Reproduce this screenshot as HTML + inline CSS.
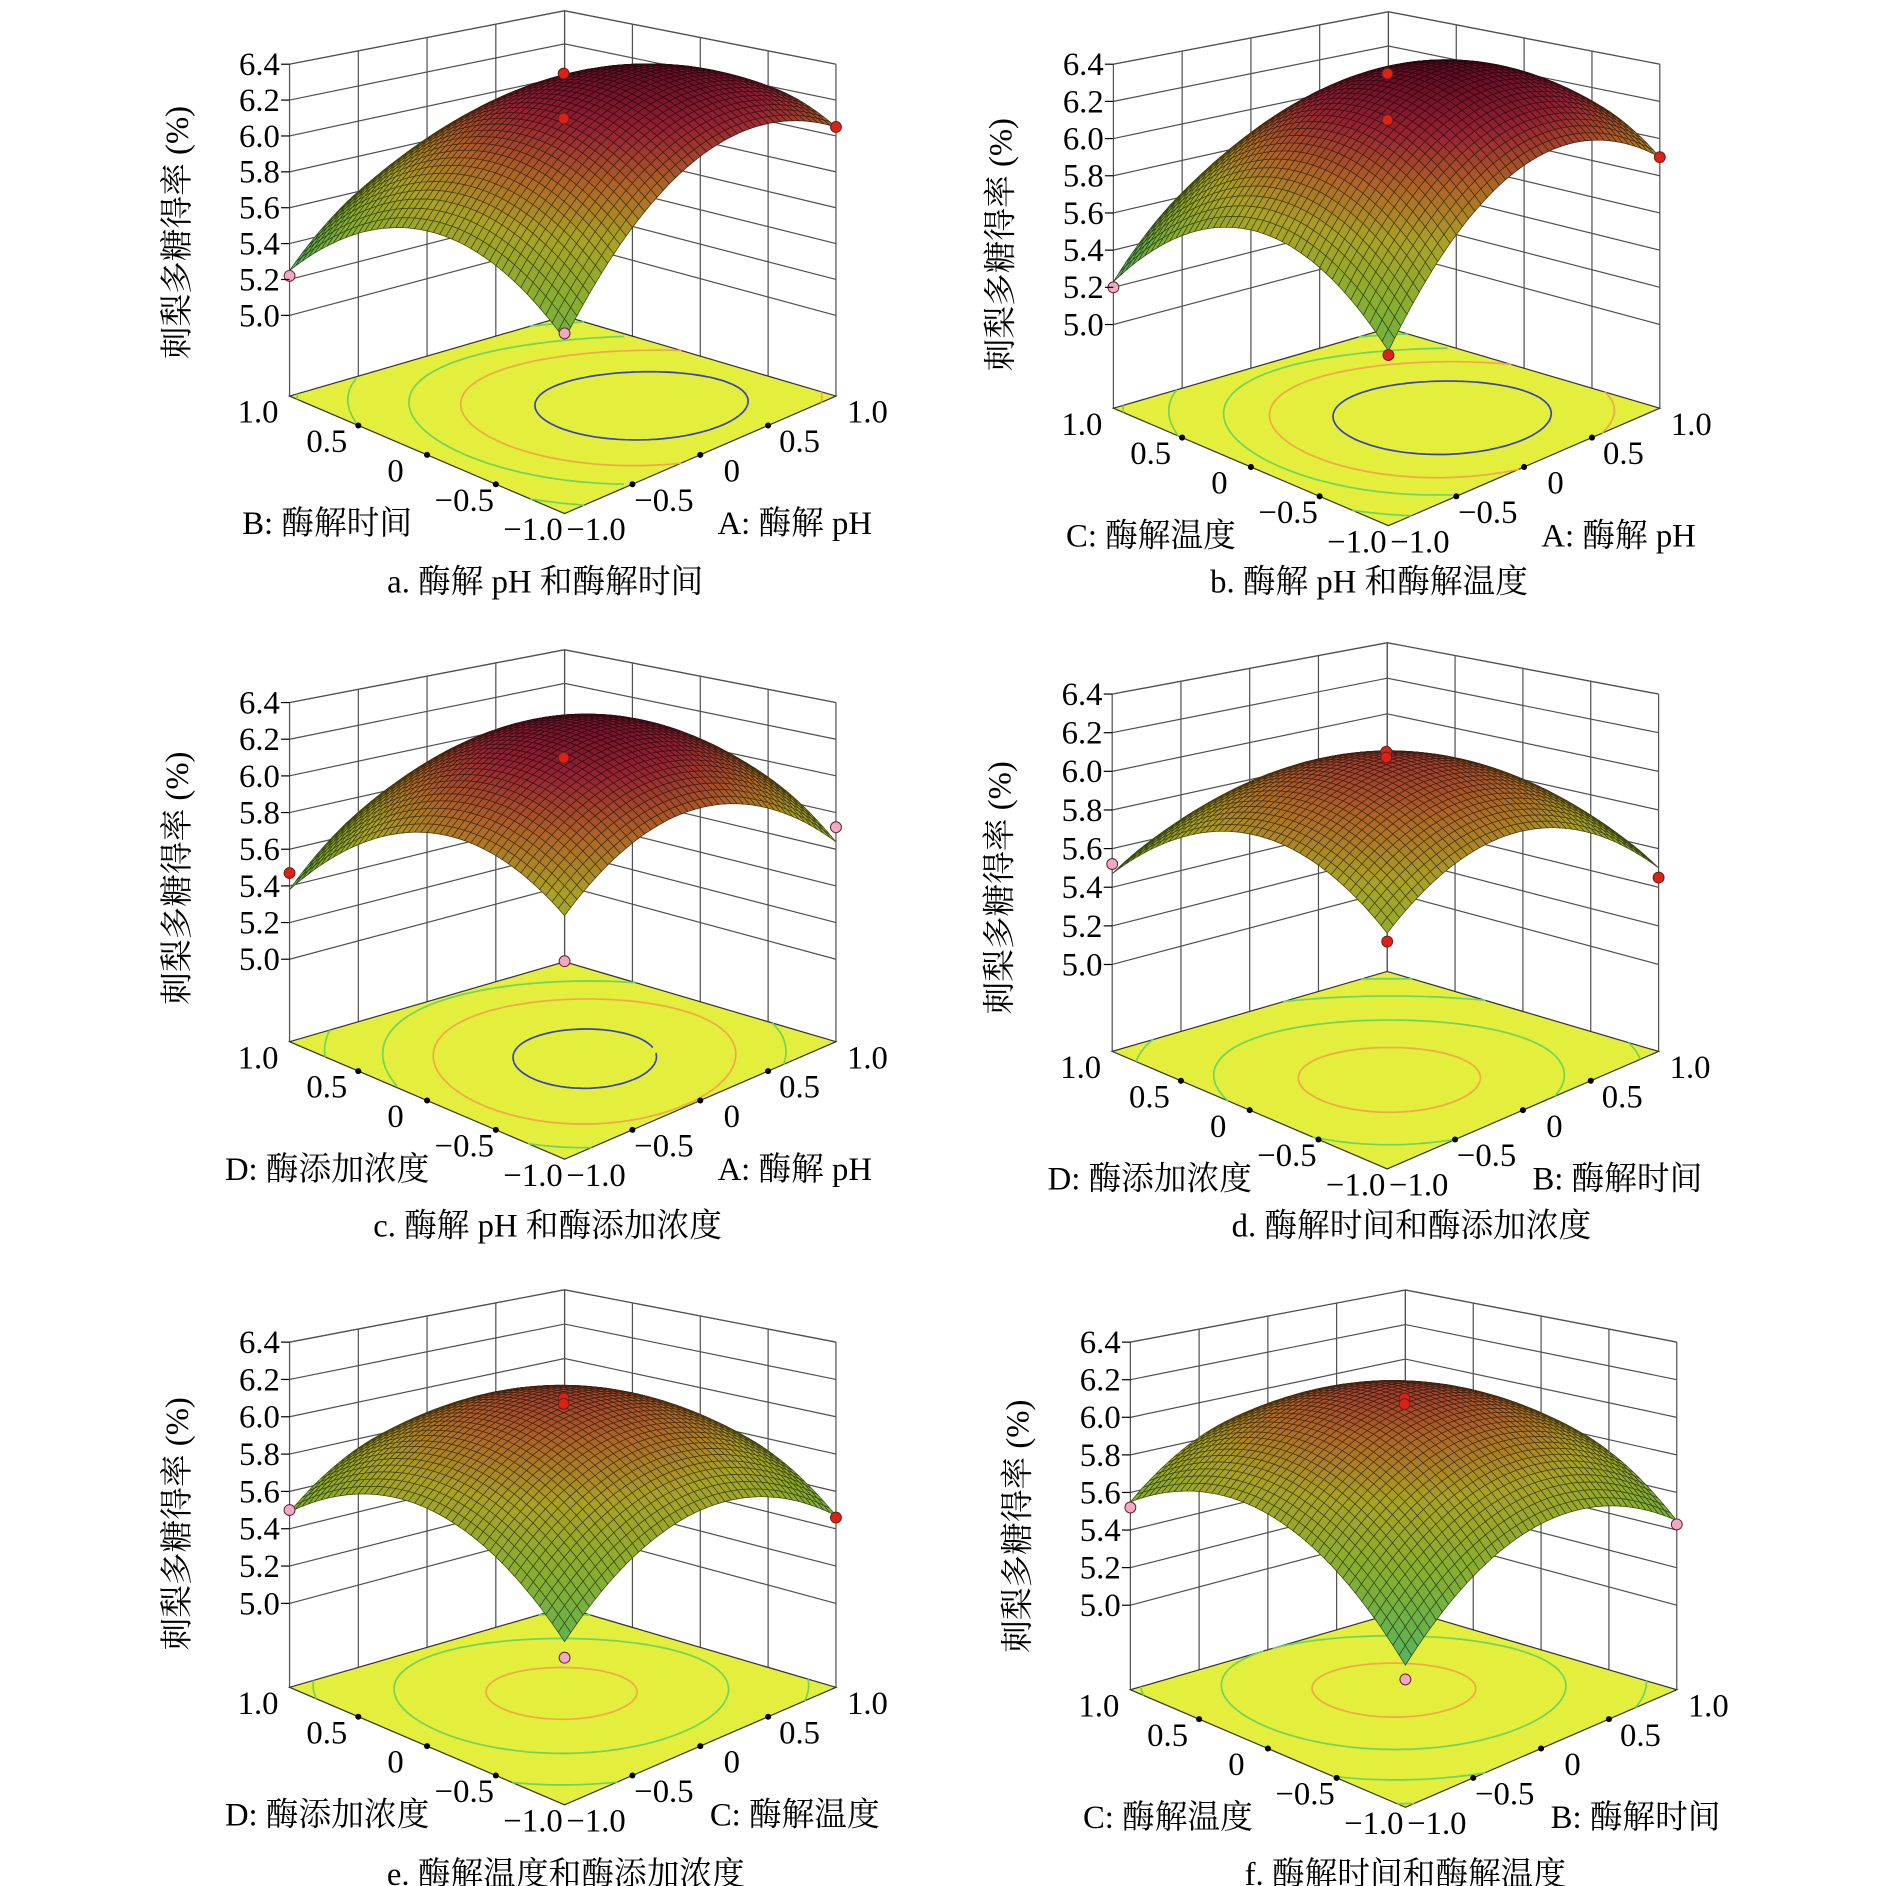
<!DOCTYPE html>
<html><head><meta charset="utf-8">
<style>
html,body{margin:0;padding:0;background:#fff;}
svg{display:block;}
text{font-family:"Liberation Serif","Noto Serif CJK SC","Noto Sans CJK SC",serif;fill:#000;}
</style></head>
<body>
<svg id="fig" xmlns="http://www.w3.org/2000/svg" width="1890" height="1886" viewBox="0 0 1560 1557" preserveAspectRatio="none">
</svg>
<script>
// ---- panel data (estimated from figure) ----
const panelIds = ['a','b','c','d','e','f'];
const rightAxisTitles = ['A: 酶解 pH','A: 酶解 pH','A: 酶解 pH','B: 酶解时间','C: 酶解温度','B: 酶解时间'];
const leftAxisTitles = ['B: 酶解时间','C: 酶解温度','D: 酶添加浓度','D: 酶添加浓度','D: 酶添加浓度','C: 酶解温度'];
const captions = ['a. 酶解 pH 和酶解时间','b. 酶解 pH 和酶解温度','c. 酶解 pH 和酶添加浓度','d. 酶解时间和酶添加浓度','e. 酶解温度和酶添加浓度','f. 酶解时间和酶解温度'];
// quadratic response-surface coefficients (u = right axis factor, v = left axis factor)
const coefB0 = [6.35, 6.40, 6.35, 6.15, 6.15, 6.15];
const coefU  = [0.20, 0.175, 0.02, -0.125, 0.025, 0.05];
const coefV  = [-0.20, -0.16, -0.11, -0.14, 0.035, 0.10];
const coefUV = [-0.10, -0.065, 0.09, -0.035, -0.03, -0.05];
const coefUU = [-0.40, -0.45, -0.375, -0.35, -0.35, -0.35];
const coefVV = [-0.40, -0.45, -0.375, -0.35, -0.35, -0.35];
// design points [u, v, z, type] type 1 = above surface (red), 0 = below (pink)
const designPoints = [
  [[0,0,6.40,1],[0,0,6.15,1],[-1,1,5.22,0],[1,-1,6.05,1],[-1,-1,5.48,0]],
  [[0,0,6.40,1],[0,0,6.15,1],[-1,1,5.20,0],[1,-1,5.90,1],[-1,-1,5.40,1]],
  [[0,0,6.15,1],[-1,1,5.47,1],[1,-1,5.72,0],[-1,-1,5.55,0]],
  [[0,0,6.15,1],[0,0,6.12,1],[-1,1,5.52,0],[1,-1,5.45,1],[-1,-1,5.64,1]],
  [[0,0,6.15,1],[0,0,6.12,1],[-1,1,5.50,0],[1,-1,5.46,1],[-1,-1,5.28,0]],
  [[0,0,6.15,1],[0,0,6.12,1],[-1,1,5.52,0],[1,-1,5.43,0],[-1,-1,5.18,0]]
];
const zTicks = [5.0,5.2,5.4,5.6,5.8,6.0,6.2,6.4];
const zTickLabels = ['5.0','5.2','5.4','5.6','5.8','6.0','6.2','6.4'];
const uvTicks = [-1,-0.5,0,0.5,1];
const uvTickLabels = ['−1.0','−0.5','0','0.5','1.0'];
const contourLevels = [5.3,5.6,5.9,6.1,6.3];

// ---- layout (not data) ----
const layout = [
  {bx:466, fy:327, HL:274, cx:450, cy:480},
  {bx:1146,fy:337, HL:284, cx:1130,cy:480},
  {bx:466, fy:860, HL:280, cx:452, cy:1012},
  {bx:1145,fy:868, HL:295, cx:1165,cy:1012},
  {bx:466, fy:1393,HL:285, cx:467, cy:1547},
  {bx:1160,fy:1395,HL:287, cx:1160,cy:1547}
];
const ZMIN=4.55, ZMAX=6.4, N=44;
const NS='http://www.w3.org/2000/svg';
const svg=document.getElementById('fig');
function mk(tag,attrs,parent){const e=document.createElementNS(NS,tag);for(const k in attrs)e.setAttribute(k,attrs[k]);(parent||svg).appendChild(e);return e;}

function proj(L,u,v,z){
  const a=(u+1)/2,b=(v+1)/2;
  const F=[L.bx,L.fy+97],R=[L.bx+224,L.fy],Lf=[L.bx-227,L.fy],B=[L.bx,L.fy-66];
  const w0=(1-a)*(1-b),w1=a*(1-b),w2=(1-a)*b,w3=a*b;
  const x=F[0]*w0+R[0]*w1+Lf[0]*w2+B[0]*w3;
  const y=F[1]*w0+R[1]*w1+Lf[1]*w2+B[1]*w3;
  const H=L.HL*(1.08*w0+1*w1+1*w2+0.92*w3);
  return [x,y-(z-ZMIN)/(ZMAX-ZMIN)*H];
}
function f(i,u,v){return coefB0[i]+coefU[i]*u+coefV[i]*v+coefUV[i]*u*v+coefUU[i]*u*u+coefVV[i]*v*v;}
const stops=[[5.0,[120,230,215]],[5.3,[110,210,100]],[5.6,[160,205,55]],[5.85,[200,190,45]],[6.05,[205,120,45]],[6.25,[175,40,60]],[6.45,[110,10,40]]];
function col(z,k){let c=stops[stops.length-1][1];
  if(z<=stops[0][0])c=stops[0][1];else for(let s=0;s<stops.length-1;s++){if(z>=stops[s][0]&&z<=stops[s+1][0]){const t=(z-stops[s][0])/(stops[s+1][0]-stops[s][0]);c=stops[s][1].map((q,j)=>q+(stops[s+1][1][j]-q)*t);break;}}
  return 'rgb('+c.map(q=>Math.round(q*k)).join(',')+')';}
function pt(p){return p[0].toFixed(1)+','+p[1].toFixed(1);}

panelIds.forEach((id,i)=>{
  const L=layout[i];
  const g=mk('g',{});
  
  
  const walls=mk('g',{stroke:'#505050','stroke-width':1,fill:'none'},g);
  
  
  uvTicks.forEach(t=>{
    let p=proj(L,t,1,ZMIN),q=proj(L,t,1,ZMAX);mk('line',{x1:p[0],y1:p[1],x2:q[0],y2:q[1]},walls);
    p=proj(L,1,t,ZMIN);q=proj(L,1,t,ZMAX);mk('line',{x1:p[0],y1:p[1],x2:q[0],y2:q[1]},walls);
  });
  zTicks.concat([ZMAX]).forEach(z=>{
    const p=[proj(L,-1,1,z),proj(L,1,1,z),proj(L,1,-1,z)];
    mk('polyline',{points:p.map(pt).join(' ')},walls);
  });
  const fl=mk('polygon',{points:[proj(L,-1,-1,ZMIN),proj(L,1,-1,ZMIN),proj(L,1,1,ZMIN),proj(L,-1,1,ZMIN)].map(pt).join(' '),fill:'#e4ee3c',stroke:'#333','stroke-width':1},g);
  
  
  const M=60;let d={};
  contourLevels.forEach(lv=>d[lv]='');
  for(let a=0;a<M;a++)for(let b=0;b<M;b++){
    const u0=-1+2*a/M,u1=-1+2*(a+1)/M,v0=-1+2*b/M,v1=-1+2*(b+1)/M;
    const c=[[u0,v0],[u1,v0],[u1,v1],[u0,v1]];
    const vals=c.map(q=>f(i,q[0],q[1]));
    contourLevels.forEach(lv=>{
      const pts=[];
      for(let e=0;e<4;e++){const p1=c[e],p2=c[(e+1)%4],f1=vals[e],f2=vals[(e+1)%4];
        if((f1-lv)*(f2-lv)<0){const t=(lv-f1)/(f2-f1);pts.push(proj(L,p1[0]+(p2[0]-p1[0])*t,p1[1]+(p2[1]-p1[1])*t,ZMIN));}}
      if(pts.length>=2)d[lv]+='M'+pt(pts[0])+'L'+pt(pts[1]);
      if(pts.length==4)d[lv]+='M'+pt(pts[2])+'L'+pt(pts[3]);
    });
  }
  contourLevels.forEach(lv=>{
    if(!d[lv])return;
    const c=lv<5.95?'#6fd45a':(lv<6.2?'#f0a848':'#3444b8');
    const pth=mk('path',{d:d[lv],stroke:c,'stroke-width':1.4,fill:'none'},g);
    
    
  });
  [-0.5,0,0.5].forEach(t=>{
    let p=proj(L,-1,t,ZMIN);mk('circle',{cx:p[0],cy:p[1],r:2.5,fill:'#000'},g);
    p=proj(L,t,-1,ZMIN);mk('circle',{cx:p[0],cy:p[1],r:2.5,fill:'#000'},g);
  });
  const sg=mk('g',{'stroke-width':0.6},g);
  
  
  for(let s=2*(N-1);s>=0;s--){
    for(let a=0;a<N;a++){const b=s-a;if(b<0||b>=N)continue;
      const u0=-1+2*a/N,u1=-1+2*(a+1)/N,v0=-1+2*b/N,v1=-1+2*(b+1)/N;
      const zc=f(i,(u0+u1)/2,(v0+v1)/2);
      const poly=[proj(L,u0,v0,f(i,u0,v0)),proj(L,u1,v0,f(i,u1,v0)),proj(L,u1,v1,f(i,u1,v1)),proj(L,u0,v1,f(i,u0,v1))];
      mk('polygon',{points:poly.map(pt).join(' '),fill:col(zc,0.85),stroke:col(zc,0.35)},sg);
    }
  }
  designPoints[i].forEach(dp=>{
    const p=proj(L,dp[0],dp[1],dp[2]);
    const c=mk('circle',{cx:p[0],cy:p[1],r:4.5,fill:dp[3]?'#e02010':'#f0a8c8',stroke:'#602020','stroke-width':0.8},g);
    
    
  });
  zTicks.forEach((z,k)=>{
    const p=proj(L,-1,1,z);
    mk('line',{x1:p[0]-7,y1:p[1],x2:p[0],y2:p[1],stroke:'#000','stroke-width':1},g);
    const t=mk('text',{x:p[0]-8,y:p[1]+9,'text-anchor':'end','font-size':27},g);
    t.textContent=zTickLabels[k];
    
    
  });
  uvTicks.forEach((tv,k)=>{
    let p=proj(L,-1,tv,ZMIN);
    let t=mk('text',{x:p[0]-26,y:p[1]+22,'text-anchor':'middle','font-size':27},g);
    t.textContent=uvTickLabels[k];
    
    
    p=proj(L,tv,-1,ZMIN);
    t=mk('text',{x:p[0]+26,y:p[1]+22,'text-anchor':'middle','font-size':27},g);
    t.textContent=uvTickLabels[k];
    
    
  });
  let t=mk('text',{x:L.bx-196,y:L.fy+114,'text-anchor':'middle','font-size':27},g);
  t.textContent=leftAxisTitles[i];
  
  
  t=mk('text',{x:L.bx+190,y:L.fy+114,'text-anchor':'middle','font-size':27},g);
  t.textContent=rightAxisTitles[i];
  
  
  t=mk('text',{x:L.bx-311,y:L.fy-135,'text-anchor':'middle','font-size':27,transform:'rotate(-90 '+(L.bx-311)+' '+(L.fy-135)+')'},g);
  t.textContent='刺梨多糖得率 (%)';
  
  
  t=mk('text',{x:L.cx,y:L.cy+9,'text-anchor':'middle','font-size':27},g);
  t.textContent=captions[i];
  
  
});
</script>
</body></html>
